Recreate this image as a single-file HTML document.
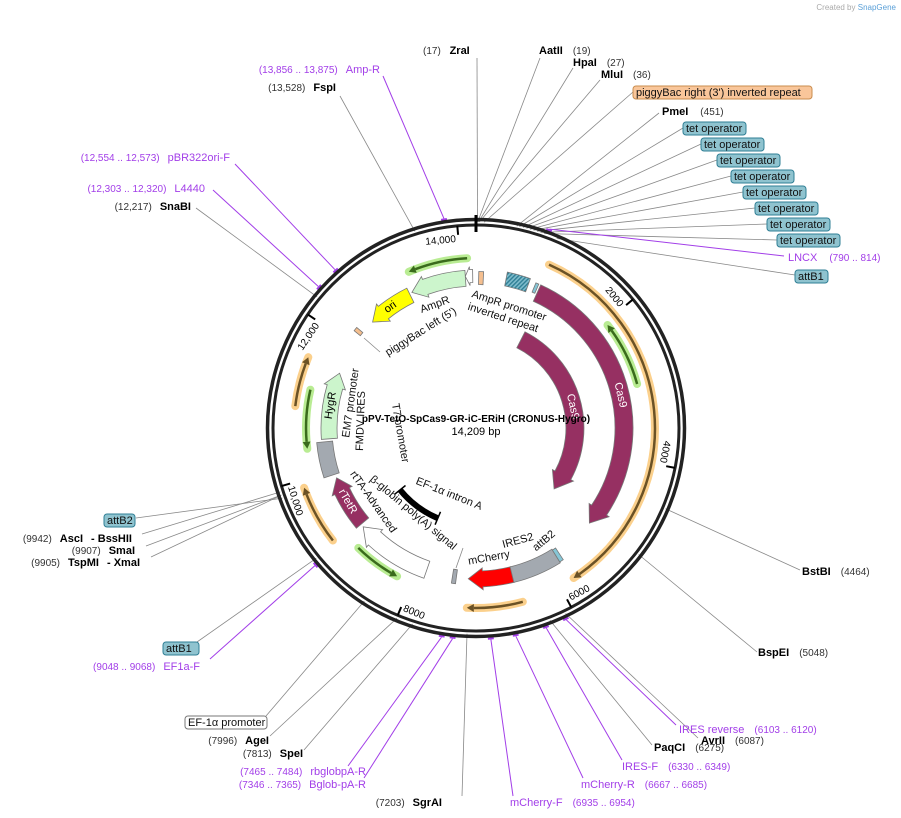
<!DOCTYPE html>
<html><head><meta charset="utf-8">
<style>
html,body{margin:0;padding:0;background:#fff;}
svg{display:block;font-family:"Liberation Sans","DejaVu Sans",sans-serif;}
.b{font-weight:bold;font-size:11px;fill:#000}
.n{font-size:10px;fill:#333}
.p{font-size:11px;fill:#a23ee8}
.pn{font-size:10px;fill:#a23ee8}
</style></head>
<body>
<svg id="map" width="901" height="818" viewBox="0 0 901 818">
<defs>
<pattern id="hatch" width="3" height="3" patternUnits="userSpaceOnUse" patternTransform="rotate(45)">
<rect width="3" height="3" fill="#7fbccc"/><rect width="1.4" height="3" fill="#2f7f95"/>
</pattern>
</defs>
<text x="896" y="10" text-anchor="end" font-size="8" fill="#aaa">Created by <tspan fill="#5aa0d8">SnapGene</tspan></text>
<g id="leaders"></g>
<g id="ring"></g>
<g id="feats"></g>
<g id="labels"></g>
<text x="476" y="422" text-anchor="middle" font-size="10" font-weight="bold">pPV-TetO-SpCas9-GR-iC-ERiH (CRONUS-Hygro)</text>
<text x="476" y="435" text-anchor="middle" font-size="11">14,209 bp</text>
</svg>
<script>
const TOTAL = 14209;
const tickValues = [2000,4000,6000,8000,10000,12000,14000];
const tickLabels = ["2000","4000","6000","8000","10,000","12,000","14,000"];
const featNames = ["Cas9-outer","Cas9-inner","AmpR","ori","HygR","FMDV-IRES-box","rTetR","rtTA-Advanced","small-gray","mCherry","IRES2","attB2","EF1a-intron-A","tet-operators","attB1","piggyBac-right","AmpR-promoter","piggyBac-left"];
const featStart = [960,1065,13210,12460,10490,9940,9080,7860,7400,6550,5840,5780,8010,450,885,40,14050,12180];
const featEnd   = [5130,5050,14050,13170,11520,10450,9880,9030,7460,7220,6560,5840,9110,790,930,110,14160,12240];
const featR     = [148,99,150,148,147,152,148,150,150,151,151,151,98,152,152,150,152,152];
const featW     = [18,18,16,16,16,16,16,18,14,16,16,14,5,14,10,13,13,8];
const featFill  = ["#963062","#963062","#ccf5cc","#ffff00","#ccf5cc","#a3a9b0","#963062","#ffffff","#a3a9b0","#ff0000","#a3a9b0","#86c6d6","#000000","url(#hatch)","#86c6d6","#f5bf8f","#ffffff","#f5bf8f"];
const featDir   = [1,1,-1,-1,1,0,1,1,0,1,0,0,0,0,0,0,-1,0];
const featText  = ["Cas9","Cas9","","ori","HygR","","rTetR","","","","","","","","","","",""];
const thinStart = [950,6510,9150,10380,10930,13290,2050,8210];
const thinEnd   = [5800,7220,9900,11170,11560,14090,2950,8860];
const thinR     = [179,180,182,170,182,170,167,168];
const thinDir   = [1,1,1,-1,1,-1,-1,-1];
const thinKind  = ["o","o","o","g","o","g","g","g"];

const cx=476, cy=428;
const NS="http://www.w3.org/2000/svg";
function ang(bp){return bp/TOTAL*360;}
function pol(r,d){const a=d*Math.PI/180;return [cx+r*Math.sin(a), cy-r*Math.cos(a)];}
function P(p){return p[0].toFixed(1)+","+p[1].toFixed(1);}
function mk(tag,attrs,parent){const e=document.createElementNS(NS,tag);for(const k in attrs)e.setAttribute(k,attrs[k]);parent.appendChild(e);return e;}
function arc(r,a1,a2){const s=a2>a1?1:0;const l=Math.abs(a2-a1)>180?1:0;return "A"+r+","+r+" 0 "+l+","+s+" "+P(pol(r,a2));}

const ring=document.getElementById('ring');
let c1=mk('circle',{cx:cx,cy:cy,r:208.5,fill:'none',stroke:'#222','stroke-width':3.5},ring);


let c2=mk('circle',{cx:cx,cy:cy,r:203,fill:'none',stroke:'#222','stroke-width':3},ring);


let t0=mk('path',{d:"M"+P(pol(196,0))+"L"+P(pol(213,0)),stroke:'#000','stroke-width':3},ring);


tickValues.forEach((v,i)=>{
  const a=ang(v);
  const t=mk('path',{d:"M"+P(pol(194,a))+"L"+P(pol(203,a)),stroke:'#000','stroke-width':2},ring);
  
  
  const flip = a>120 && a<300;
  let tx;
  if(flip){
    const lp=pol(197,a-0.8);
    tx=mk('text',{x:lp[0],y:lp[1],'font-size':10,'text-anchor':'start',transform:"rotate("+(a-180)+" "+lp[0]+" "+lp[1]+")"},ring);
  } else {
    const lp=pol(187,a-0.8);
    tx=mk('text',{x:lp[0],y:lp[1],'font-size':10,'text-anchor':'end',transform:"rotate("+a+" "+lp[0]+" "+lp[1]+")"},ring);
  }
  tx.textContent=tickLabels[i];
  
  
});

const feats=document.getElementById('feats');
function bandPath(r,w,a1,a2,dir){
  const ro=r+w/2, ri=r-w/2; const h=Math.min((w*0.9)/r*180/Math.PI,(a2-a1)*0.6);
  if(dir===1){const e=a2-h;return "M"+P(pol(ro,a1))+arc(ro,a1,e)+"L"+P(pol(ro+3,e))+"L"+P(pol(r,a2))+"L"+P(pol(ri-3,e))+"L"+P(pol(ri,e))+arc(ri,e,a1)+"Z";}
  if(dir===-1){const s=a1+h;return "M"+P(pol(ro,a2))+arc(ro,a2,s)+"L"+P(pol(ro+3,s))+"L"+P(pol(r,a1))+"L"+P(pol(ri-3,s))+"L"+P(pol(ri,s))+arc(ri,s,a2)+"Z";}
  return "M"+P(pol(ro,a1))+arc(ro,a1,a2)+"L"+P(pol(ri,a2))+arc(ri,a2,a1)+"Z";
}
thinStart.forEach((s,i)=>{
  const a1=ang(s),a2=ang(thinEnd[i]),r=thinR[i];
  const halo=thinKind[i]==='o'?'#fbd08c':'#b9ec93', line=thinKind[i]==='o'?'#6b5226':'#3a6b1c';
  const g=mk('g',{},feats);
  
  
  mk('path',{d:"M"+P(pol(r,a1))+arc(r,a1,a2),fill:'none',stroke:halo,'stroke-width':8,'stroke-linecap':'round'},g);
  const h=7/r*180/Math.PI;
  const b1=thinDir[i]===1?a1:a1+h, b2=thinDir[i]===1?a2-h:a2;
  mk('path',{d:"M"+P(pol(r,b1))+arc(r,b1,b2),fill:'none',stroke:line,'stroke-width':2.5},g);
  const tip=thinDir[i]===1?a2:a1, base=thinDir[i]===1?a2-h:a1+h;
  mk('path',{d:"M"+P(pol(r+4,base))+"L"+P(pol(r,tip))+"L"+P(pol(r-4,base))+"Z",fill:line},g);
});
featNames.forEach((n,i)=>{
  const a1=ang(featStart[i]),a2=ang(featEnd[i]);
  const p=mk('path',{d:bandPath(featR[i],featW[i],a1,a2,featDir[i]),fill:featFill[i],stroke:featFill[i]==='#000000'?'#000':'#777','stroke-width':0.8},feats);
  
  
  if(featText[i]){
    const m=(a1+a2)/2, q=pol(featR[i],m);
    let rot=m; if(n==="rTetR") rot=m-180;
    const t=mk('text',{x:q[0],y:q[1],'text-anchor':'middle','dominant-baseline':'central','font-size':11,fill:featFill[i]==='#963062'?'#fff':'#000',transform:"rotate("+rot+" "+q[0]+" "+q[1]+")"},feats);
    t.textContent=featText[i];
    
    
  }
});
[8010,9110].forEach(v=>{const a=ang(v);mk('path',{d:"M"+P(pol(91,a))+"L"+P(pol(105,a)),stroke:'#000','stroke-width':1.5},feats);});

const lab=document.getElementById('labels'), lead=document.getElementById('leaders');
function L(html,x,y,anchor,bp,lx,ly,purple,name){
  const t=mk('text',{x:x,y:y,'text-anchor':anchor},lab);
  t.innerHTML=html;
  
  
  const q=pol(purple?212:206,ang(bp));
  mk('path',{d:"M"+lx+","+ly+"L"+P(q),stroke:purple?'#a23ee8':'#888','stroke-width':purple?1:0.8,fill:'none'},lead);
  if(purple) mk('path',{d:"M"+P(pol(211,ang(bp)-0.8))+"L"+P(pol(211,ang(bp)+0.8)),stroke:'#a23ee8','stroke-width':2},lead);
}
function B(txt,x,y,w,bp,lx,ly,fill,stroke,name){
  const g=mk('g',{},lab);
  
  
  mk('rect',{x:x,y:y-10,width:w,height:13,rx:3,fill:fill,stroke:stroke,'stroke-width':1},g);
  const t=mk('text',{x:x+3,y:y,'font-size':11,fill:'#111'},g); t.textContent=txt;
  const q=pol(206,ang(bp));
  mk('path',{d:"M"+lx+","+ly+"L"+P(q),stroke:'#888','stroke-width':0.8,fill:'none'},lead);
}
L('<tspan class="n">(17) </tspan><tspan class="b" dx="6">ZraI</tspan>',423,54,'start',17,477,58,false,'label-zrai');
L('<tspan class="b">AatII</tspan><tspan class="n" dx="10">(19)</tspan>',539,54,'start',19,540,58,false,'label-aatii');
L('<tspan class="b">HpaI</tspan><tspan class="n" dx="10">(27)</tspan>',573,66,'start',27,573,68,false,'label-hpai');
L('<tspan class="b">MluI</tspan><tspan class="n" dx="10">(36)</tspan>',601,78,'start',36,600,80,false,'label-mlui');
B("piggyBac right (3') inverted repeat",633,96,179,90,633,92,'#f9c69a','#c98c4d','label-piggybac-right');
L('<tspan class="b">PmeI</tspan><tspan class="n" dx="12">(451)</tspan>',662,115,'start',451,659,113,false,'label-pmei');
const tetX=[683,701,717,731,743,755,767,777], tetBp=[480,520,560,600,640,680,720,760];
tetX.forEach((x,i)=>B("tet operator",x,132+16*i,63,tetBp[i],x,128+16*i,'#8fc3cf','#2f7f95','label-tet-operator-'+i));
L('<tspan class="p">LNCX</tspan><tspan class="pn" dx="12">(790 .. 814)</tspan>',788,261,'start',800,784,256,true,'label-lncx');
B("attB1",795,280,33,910,795,275,'#8fc3cf','#2f7f95','label-attb1-top');
L('<tspan class="b">BstBI</tspan><tspan class="n" dx="10">(4464)</tspan>',802,575,'start',4464,800,570,false,'label-bstbi');
L('<tspan class="b">BspEI</tspan><tspan class="n" dx="10">(5048)</tspan>',758,656,'start',5048,757,652,false,'label-bspei');
L('<tspan class="b">AvrII</tspan><tspan class="n" dx="10">(6087)</tspan>',701,744,'start',6087,698,738,false,'label-avrii');
L('<tspan class="p">IRES reverse</tspan><tspan class="pn" dx="10">(6103 .. 6120)</tspan>',679,733,'start',6110,676,725,true,'label-ires-reverse');
L('<tspan class="b">PaqCI</tspan><tspan class="n" dx="10">(6275)</tspan>',654,751,'start',6275,652,745,false,'label-paqci');
L('<tspan class="p">IRES-F</tspan><tspan class="pn" dx="10">(6330 .. 6349)</tspan>',622,770,'start',6340,622,760,true,'label-ires-f');
L('<tspan class="p">mCherry-R</tspan><tspan class="pn" dx="10">(6667 .. 6685)</tspan>',581,788,'start',6676,583,778,true,'label-mcherry-r');
L('<tspan class="p">mCherry-F</tspan><tspan class="pn" dx="10">(6935 .. 6954)</tspan>',510,806,'start',6945,513,796,true,'label-mcherry-f');
L('<tspan class="n">(7203)</tspan><tspan class="b" dx="8">SgrAI</tspan>',442,806,'end',7203,462,796,false,'label-sgrai');
L('<tspan class="pn">(7346 .. 7365)</tspan><tspan class="p" dx="8">Bglob-pA-R</tspan>',366,788,'end',7356,364,778,true,'label-bglob-pa-r');
L('<tspan class="pn">(7465 .. 7484)</tspan><tspan class="p" dx="8">rbglobpA-R</tspan>',366,775,'end',7474,348,766,true,'label-rbglobpa-r');
L('<tspan class="n">(7813)</tspan><tspan class="b" dx="8">SpeI</tspan>',303,757,'end',7813,304,750,false,'label-spei');
L('<tspan class="n">(7996)</tspan><tspan class="b" dx="8">AgeI</tspan>',269,744,'end',7996,270,736,false,'label-agei');
B("EF-1\u03b1 promoter",185,726,82,8400,266,716,'#ffffff','#777','label-ef1a-promoter');
L('<tspan class="pn">(9048 .. 9068)</tspan><tspan class="p" dx="8">EF1a-F</tspan>',200,670,'end',9058,210,659,true,'label-ef1a-f');
B("attB1",163,652,36,9110,197,642,'#8fc3cf','#2f7f95','label-attb1-bottom');
B("attB2",104,524,31,9870,136,518,'#8fc3cf','#2f7f95','label-attb2');
L('<tspan class="n">(9942)</tspan><tspan class="b" dx="8">AscI</tspan><tspan class="b" dx="8">- BssHII</tspan>',132,542,'end',9942,142,534,false,'label-asci');
L('<tspan class="n">(9907)</tspan><tspan class="b" dx="8">SmaI</tspan>',135,554,'end',9907,146,546,false,'label-smai');
L('<tspan class="n">(9905)</tspan><tspan class="b" dx="8">TspMI</tspan><tspan class="b" dx="8">- XmaI</tspan>',140,566,'end',9905,151,557,false,'label-tspmi');
L('<tspan class="pn">(12,554 .. 12,573)</tspan><tspan class="p" dx="8">pBR322ori-F</tspan>',230,161,'end',12563,235,164,true,'label-pbr322ori-f');
L('<tspan class="pn">(12,303 .. 12,320)</tspan><tspan class="p" dx="8">L4440</tspan>',205,192,'end',12311,213,190,true,'label-l4440');
L('<tspan class="n">(12,217)</tspan><tspan class="b" dx="8">SnaBI</tspan>',191,210,'end',12217,196,208,false,'label-snabi');
L('<tspan class="n">(13,528)</tspan><tspan class="b" dx="8">FspI</tspan>',336,91,'end',13528,340,96,false,'label-fspi');
L('<tspan class="pn">(13,856 .. 13,875)</tspan><tspan class="p" dx="8">Amp-R</tspan>',380,73,'end',13865,383,76,true,'label-amp-r');

function IL(txt,x,y,rot,name){
  const t=mk('text',{x:x,y:y,'font-size':11,fill:'#111','text-anchor':'middle','dominant-baseline':'central',transform:"rotate("+rot+" "+x+" "+y+")"},lab);
  t.textContent=txt;
  
  
}
IL("AmpR",435,305,-20,'inner-label-ampr');
IL("piggyBac left (5')",421,332,-32,'inner-label-piggybac-left');
IL("AmpR promoter",509,306,18,'inner-label-ampr-promoter');
IL("inverted repeat",503,318,18,'inner-label-inverted-repeat');
IL("EM7 promoter",351,403,-82,'inner-label-em7');
IL("FMDV IRES",361,421,-88,'inner-label-fmdv');
IL("T7 promoter",400,433,80,'inner-label-t7');
IL("\u03b2-globin poly(A) signal",413,513,40,'inner-label-bglobin');
IL("rtTA-Advanced",373,502,55,'inner-label-rtta');
IL("EF-1\u03b1 intron A",449,494,22,'inner-label-ef1a-intron');
IL("mCherry",489,558,-10,'inner-label-mcherry');
IL("IRES2",518,541,-15,'inner-label-ires2');
IL("attB2",544,541,-40,'inner-label-attb2');
mk('path',{d:"M456,568L463,548",stroke:'#888','stroke-width':0.8},lab);
mk('path',{d:"M364,338L380,352",stroke:'#888','stroke-width':0.8},lab);
</script>
</body></html>
